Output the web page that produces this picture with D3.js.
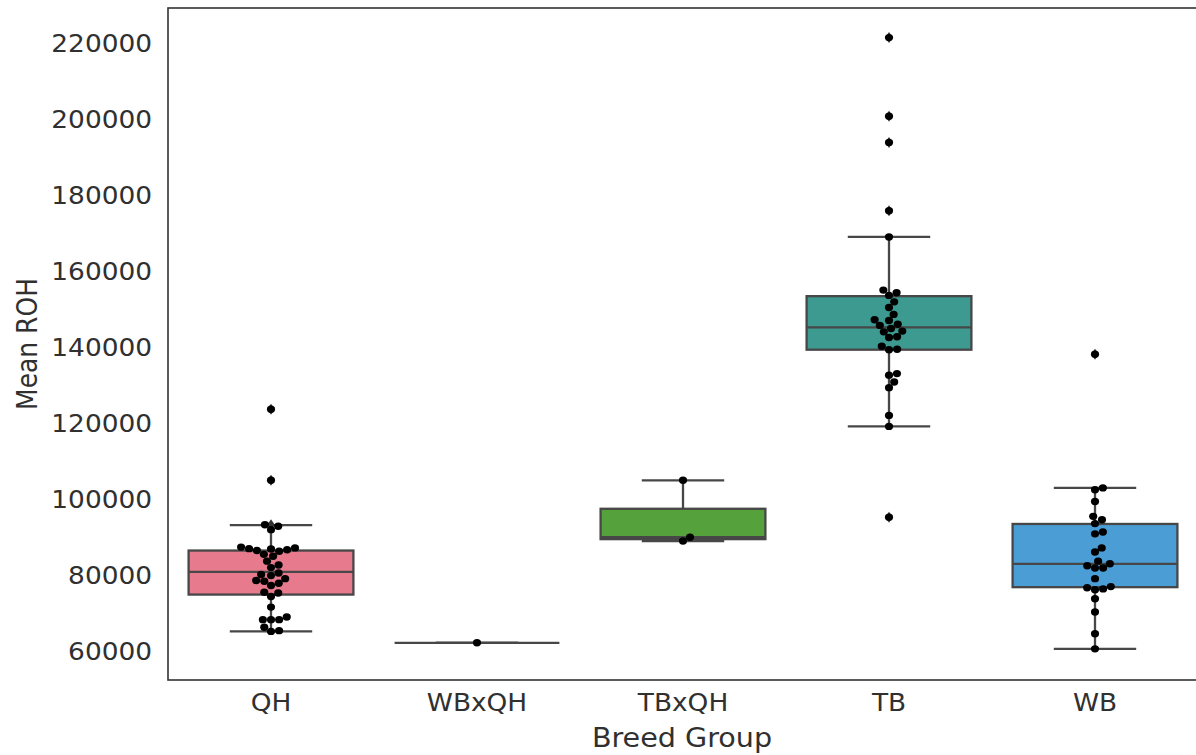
<!DOCTYPE html>
<html>
<head>
<meta charset="utf-8">
<script src="https://cdn.jsdelivr.net/npm/d3@7"></script>
<style>
	body { margin: 0; background: #fff; }
	svg text { font-family: "DejaVu Sans", sans-serif; fill: #303030; }
</style>
</head>
<body>
<svg id="chart"></svg>
<script>

// categories and colours
var categories = ['QH', 'WBxQH', 'TBxQH', 'TB', 'WB'];
var boxColors = ['#e87a8e', '#b0a03a', '#55a23c', '#3d9a91', '#4b9dd6'];

// box statistics
var q1        = [75000, 62300, 89600, 139500, 76950];
var medians   = [81000, 62300, 90100, 145400, 83100];
var q3        = [86600, 62300, 97600, 153600, 93600];
var whiskerLo = [65300, 62300, 89100, 119300, 60700];
var whiskerHi = [93300, 62300, 105100, 169200, 103100];

// individual samples (swarm)
var qhValues = [123800, 105100, 93400, 93000, 92100, 87500, 87300, 87100, 87000, 86800, 86600, 86400,
	85600, 85100, 83800, 82800, 82100, 80700, 80300, 80000, 79200, 78700, 78500, 78000, 77400,
	75600, 75400, 74500, 71700, 69100, 68400, 68400, 68400, 66400, 65500, 65300];
var wbxqhValues = [62300];
var tbxqhValues = [105100, 90100, 89100];
var tbValues = [221700, 201000, 194100, 176100, 169200, 155200, 154500, 153800, 152100, 150600,
	148800, 147400, 147200, 146200, 145900, 145100, 144400, 144200, 142900, 142700, 140400,
	139600, 139500, 133200, 132800, 131000, 129500, 122200, 119300, 95400];
var wbValues = [138300, 103100, 102600, 99500, 95600, 94700, 93700, 91500, 91000, 87300, 86200,
	83800, 83100, 82600, 82000, 82000, 79200, 77100, 76800, 76500, 76300, 73900, 70400, 64700, 60700];

var yTicks = [60000, 80000, 100000, 120000, 140000, 160000, 180000, 200000, 220000];

var samples = [qhValues, wbxqhValues, tbxqhValues, tbValues, wbValues];

var width = 1196, height = 755;
var margin = {top: 8, right: -2, bottom: 75, left: 168};
var innerW = width - margin.left - margin.right;
var innerH = height - margin.top - margin.bottom;

// the original figure is a little wider than tall in its glyphs
var stretch = 1.1;

var svg = d3.select('#chart')
	.attr('width', width)
	.attr('height', height);

var g = svg.append('g')
	.attr('transform', 'translate(' + margin.left + ',' + margin.top + ')');

var xScale = d3.scaleBand()
	.domain(categories)
	.range([0, innerW]);

var yScale = d3.scaleLinear()
	.domain([52500, 229500])
	.range([innerH, 0]);

var boxW = xScale.bandwidth() * 0.8;
var lineColor = '#474747';
var lw = 2.3;

// boxes
categories.forEach(function(cat, i) {
	var cx = xScale(cat) + xScale.bandwidth() / 2;
	var bg = g.append('g').attr('class', 'box');

	// whiskers
	bg.append('line')
		.attr('x1', cx).attr('x2', cx)
		.attr('y1', yScale(q3[i])).attr('y2', yScale(whiskerHi[i]))
		.attr('stroke', lineColor).attr('stroke-width', lw);
	bg.append('line')
		.attr('x1', cx).attr('x2', cx)
		.attr('y1', yScale(q1[i])).attr('y2', yScale(whiskerLo[i]))
		.attr('stroke', lineColor).attr('stroke-width', lw);

	// caps
	[whiskerLo[i], whiskerHi[i]].forEach(function(v) {
		bg.append('line')
			.attr('x1', cx - boxW / 4).attr('x2', cx + boxW / 4)
			.attr('y1', yScale(v)).attr('y2', yScale(v))
			.attr('stroke', lineColor).attr('stroke-width', lw);
	});

	bg.append('rect')
		.attr('x', cx - boxW / 2)
		.attr('width', boxW)
		.attr('y', yScale(q3[i]))
		.attr('height', yScale(q1[i]) - yScale(q3[i]))
		.attr('fill', boxColors[i])
		.attr('stroke', lineColor)
		.attr('stroke-width', lw);

	bg.append('line')
		.attr('x1', cx - boxW / 2).attr('x2', cx + boxW / 2)
		.attr('y1', yScale(medians[i])).attr('y2', yScale(medians[i]))
		.attr('stroke', lineColor).attr('stroke-width', lw);

	// fliers (thin diamonds)
	samples[i].filter(function(v) { return v > whiskerHi[i] || v < whiskerLo[i]; })
		.forEach(function(v) {
			var y = yScale(v);
			bg.append('path')
				.attr('d', 'M' + cx + ',' + (y - 5.5) + 'L' + (cx + 3.8) + ',' + y +
					'L' + cx + ',' + (y + 5.5) + 'L' + (cx - 3.8) + ',' + y + 'Z')
				.attr('fill', '#333');
		});
});

// swarm layout, like seaborn: place points bottom-up, nearest free offset to centre
var r = 3.7, d = r * 2;
function swarm(values) {
	var placed = [];
	values.slice().sort(function(a, b) { return a - b; }).forEach(function(v) {
		var y = yScale(v);
		var near = placed.filter(function(p) { return Math.abs(p.y - y) < d; });
		var cands = [0];
		near.forEach(function(p) {
			var dx = Math.sqrt(d * d - (p.y - y) * (p.y - y));
			cands.push(p.x + dx, p.x - dx);
		});
		cands.sort(function(a, b) { return Math.abs(a) - Math.abs(b); });
		var x = cands.find(function(c) {
			return near.every(function(p) {
				return (p.x - c) * (p.x - c) + (p.y - y) * (p.y - y) >= d * d - 0.01;
			});
		});
		placed.push({x: x, y: y});
	});
	return placed;
}

categories.forEach(function(cat, i) {
	var cx = xScale(cat) + xScale.bandwidth() / 2;
	g.append('g').selectAll('ellipse')
		.data(swarm(samples[i]))
		.enter().append('ellipse')
		.attr('cx', function(p) { return cx + p.x * stretch; })
		.attr('cy', function(p) { return p.y; })
		.attr('rx', r * stretch)
		.attr('ry', r)
		.attr('fill', '#000');
});

// axes
var yAxis = g.append('g')
	.call(d3.axisLeft(yScale).tickValues(yTicks).tickSize(0).tickPadding(14.5).tickFormat(d3.format('d')));
yAxis.selectAll('text')
	.style('font-size', '24px')
	.attr('transform', 'scale(' + stretch + ',1)');

var xAxis = g.append('g')
	.attr('transform', 'translate(0,' + innerH + ')')
	.call(d3.axisBottom(xScale).tickSize(0).tickPadding(14));
xAxis.selectAll('text')
	.style('font-size', '24px')
	.attr('transform', 'scale(' + stretch + ',1)');

g.selectAll('.domain').remove();

// frame
g.append('rect')
	.attr('x', 0).attr('y', 0)
	.attr('width', innerW).attr('height', innerH)
	.attr('fill', 'none')
	.attr('stroke', '#333')
	.attr('stroke-width', 1.6);

// axis labels
svg.append('text')
	.attr('transform', 'translate(' + (margin.left + innerW / 2 - 1) + ',747) scale(' + stretch + ',1)')
	.attr('text-anchor', 'middle')
	.style('font-size', '26px')
	.text('Breed Group');

svg.append('text')
	.attr('transform', 'translate(37,' + (margin.top + innerH / 2) + ') scale(' + stretch + ',1) rotate(-90)')
	.attr('text-anchor', 'middle')
	.style('font-size', '25px')
	.text('Mean ROH');

</script>
</body>
</html>
